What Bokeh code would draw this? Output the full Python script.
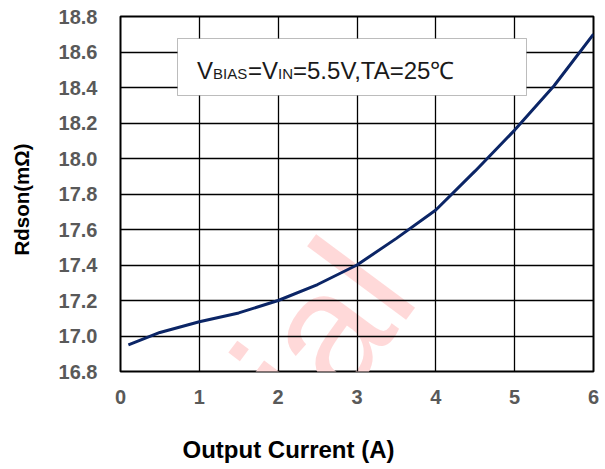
import math
from bokeh.plotting import figure
from bokeh.models import Range1d, FixedTicker, PrintfTickFormatter, Label, BoxAnnotation, Title
from bokeh.embed import file_html
from bokeh.resources import INLINE

# ---- data ----
current_a = [0.1, 0.5, 1.0, 1.5, 2.0, 2.5, 3.0, 3.5, 4.0, 4.5, 5.0, 5.5, 6.0]
rdson_mohm = [16.95, 17.02, 17.08, 17.13, 17.20, 17.29, 17.40, 17.55, 17.71, 17.93, 18.16, 18.41, 18.70]
x_ticks = [0, 1, 2, 3, 4, 5, 6]
y_ticks = [16.8, 17.0, 17.2, 17.4, 17.6, 17.8, 18.0, 18.2, 18.4, 18.6, 18.8]
x_title = "Output Current (A)"
y_title = "Rdson(mΩ)"
legend_parts = ["V", "BIAS", "=V", "IN", "=5.5V,TA=25℃"]
watermark = "Confidential"

# ---- layout (canvas pixels) ----
FL, FR, FT, FB = 120, 593, 16, 371
X0, X1, Y0, Y1 = 0.0, 6.0, 16.8, 18.8

def dx(px):
    return X0 + (px - FL) * (X1 - X0) / (FR - FL)

def dy(py):
    return Y0 + (FB - py) * (Y1 - Y0) / (FB - FT)

W, H = 600, 469
p = figure(width=W, height=H, output_backend="svg", toolbar_location=None,
           x_range=Range1d(X0, X1), y_range=Range1d(Y0, Y1),
           min_border_left=FL, min_border_right=W - FR,
           min_border_top=FT, min_border_bottom=H - FB)
p.background_fill_color = "white"
p.border_fill_color = "white"
p.outline_line_color = "black"
p.outline_line_width = 2

FONT = "Liberation Sans"
for ax in (p.xaxis[0], p.yaxis[0]):
    ax.axis_line_color = None
    ax.major_tick_line_color = None
    ax.minor_tick_line_color = None
    ax.major_tick_out = 0
    ax.major_label_text_font = FONT
    ax.major_label_text_font_style = "bold"
    ax.major_label_text_font_size = "20px"
    ax.major_label_text_color = "#595959"
p.xaxis[0].ticker = FixedTicker(ticks=x_ticks)
p.yaxis[0].ticker = FixedTicker(ticks=y_ticks)
p.yaxis[0].formatter = PrintfTickFormatter(format="%.1f")
p.xaxis[0].major_label_standoff = 18
p.yaxis[0].major_label_standoff = 23

p.xgrid.ticker = FixedTicker(ticks=x_ticks)
p.ygrid.ticker = FixedTicker(ticks=y_ticks)
for g in (p.xgrid[0], p.ygrid[0]):
    g.grid_line_color = "black"
    g.grid_line_width = 1.3

# watermark (behind everything)
wm = Label(x=dx(374), y=dy(263), text=watermark, angle=math.radians(53.4),
           text_align="right", text_baseline="alphabetic",
           text_font=FONT, text_font_size="170px", text_color="#ffd9d9",
           level="image")
p.add_layout(wm)

p.line(current_a, rdson_mohm, line_color="#0b2566", line_width=3, line_join="round")

# legend box
box = BoxAnnotation(left=dx(177), right=dx(526), top=dy(38), bottom=dy(95),
                    fill_color="white", fill_alpha=1.0, line_color="#222222", line_width=1)
p.add_layout(box)

part_x = [196.5, 212.5, 247.5, 277.5, 292.5]
part_y = [70, 72.8, 70, 72.8, 70]
part_size = ["24px", "15px", "24px", "15px", "24px"]
for txt, px, py, fs in zip(legend_parts, part_x, part_y, part_size):
    p.add_layout(Label(x=dx(px), y=dy(py), text=txt, text_align="left",
                       text_baseline="alphabetic", text_font=FONT,
                       text_font_size=fs, text_color="#1a1a1a"))

# axis titles as side-panel titles (not clipped by the frame)
xt = Title(text=x_title, align="left", offset=62, vertical_align="top", standoff=0,
           padding=dict(top=29, right=0, bottom=0, left=0),
           text_font=FONT, text_font_style="bold", text_font_size="24px", text_color="black")
p.add_layout(xt, "below")
yt = Title(text=y_title, align="left", offset=116, vertical_align="bottom", standoff=0,
           padding=dict(top=0, right=0, bottom=23, left=0),
           text_font=FONT, text_font_style="bold", text_font_size="20.5px", text_color="black")
p.add_layout(yt, "left")

open("out.html", "w").write(file_html(p, INLINE))
